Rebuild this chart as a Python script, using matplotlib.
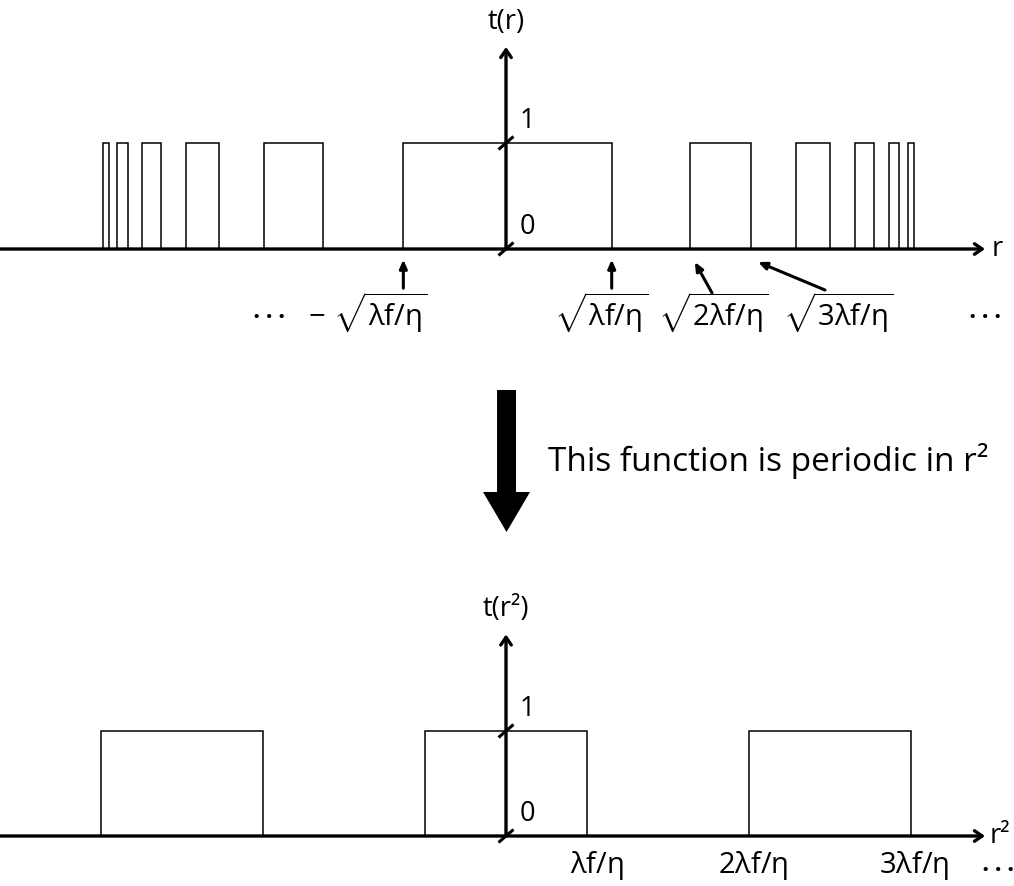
import matplotlib
matplotlib.use("Agg")
import matplotlib.pyplot as plt
from matplotlib.patches import FancyArrow

plt.rcParams['font.family'] = ['Open Sans', 'DejaVu Sans']
plt.rcParams['mathtext.fontset'] = 'custom'
plt.rcParams['mathtext.rm'] = 'Open Sans'
plt.rcParams['mathtext.it'] = 'Open Sans'
plt.rcParams['mathtext.bf'] = 'Open Sans:bold'

# ---------------- data ----------------
# top panel: t(r), x in units of sqrt(lambda f / eta)
top_left = [-3.817, -3.684, -3.453, -3.033, -2.291, -0.973, 1.744, 2.746, 3.305, 3.627, 3.808]
top_right = [-3.760, -3.580, -3.270, -2.718, -1.732, 1.002, 2.322, 3.071, 3.491, 3.728, 3.870]
levels = [0, 1]
level_labels = ['0', '1']

top_labels = [r'$-\ \sqrt{\lambda f/\eta}$', r'$\sqrt{\lambda f/\eta}$',
              r'$\sqrt{2\lambda f/\eta}$', r'$\sqrt{3\lambda f/\eta}$']
top_label_x = [-1.31, 0.90, 1.97, 3.15]
top_dots_x = [-2.24, 4.54]

# pointer arrows (tail -> tip) under top axis
ptr_tail_x = [-0.973, 1.002, 1.953, 3.024]
ptr_tail_y = [-0.37, -0.37, -0.415, -0.387]
ptr_tip_x = [-0.973, 1.002, 1.790, 2.389]
ptr_tip_y = [-0.10, -0.10, -0.123, -0.123]

# bottom panel: t(r^2), x in units of lambda f / eta (drawing scale)
bot_left = [-5, -1, 3]
bot_right = [-3, 1, 5]
bot_labels = [r'$\lambda f/\eta$', r'$2\lambda f/\eta$', r'$3\lambda f/\eta$']
bot_label_x = [1.12, 3.05, 5.04]

# ---------------- figure ----------------
W, H = 1014, 886
fig = plt.figure(figsize=(W / 100, H / 100), dpi=100)

top_x0, top_ux, top_y0, top_uy = 506, 105.5, 249, 106
bot_x0, bot_ux, bot_y0, bot_uy = 506, 81.0, 836, 105

ax_t = fig.add_axes([0, 0, 1, 1])
ax_t.set_xlim(-top_x0 / top_ux, (W - top_x0) / top_ux)
ax_t.set_ylim((top_y0 - H) / top_uy, top_y0 / top_uy)
ax_t.set_axis_off()
ax_t.patch.set_alpha(0)

ax_b = fig.add_axes([0, 0, 1, 1])
ax_b.set_xlim(-bot_x0 / bot_ux, (W - bot_x0) / bot_ux)
ax_b.set_ylim((bot_y0 - H) / bot_uy, bot_y0 / bot_uy)
ax_b.set_axis_off()
ax_b.patch.set_alpha(0)

LW_AX = 2.4
LW_P = 1.1
FS = 19.5
FS_LAB = 21
DOTS = '• • •'
FS_DOTS = 14


def draw_axes(ax, ux, uy, tipx, vtip, ylabel, xlabel, xlab_x):
    xmin = ax.get_xlim()[0]
    ax.annotate('', xy=(tipx, 0), xytext=(xmin, 0),
                arrowprops=dict(arrowstyle='->,head_length=0.55,head_width=0.38',
                                lw=LW_AX, color='black', shrinkA=0, shrinkB=0))
    ax.annotate('', xy=(0, vtip), xytext=(0, 0),
                arrowprops=dict(arrowstyle='->,head_length=0.55,head_width=0.38',
                                lw=LW_AX, color='black', shrinkA=0, shrinkB=0))
    dx, dy = 7.5 / ux, 6.5 / uy
    for lv, lab in zip(levels, level_labels):
        ax.plot([-dx, dx], [lv - dy, lv + dy], color='black', lw=2.2,
                solid_capstyle='butt')
        ax.text(14 / ux, lv + 0.21, lab, fontsize=FS, ha='left', va='center')
    ax.text(0, vtip + 0.24, ylabel, fontsize=FS, ha='center', va='center')
    ax.text(xlab_x, 0, xlabel, fontsize=FS, ha='left', va='center')


def draw_pulses(ax, lefts, rights):
    for l, r in zip(lefts, rights):
        ax.plot([l, l, r, r], [0, 1, 1, 0], color='black', lw=LW_P,
                solid_joinstyle='miter')


# ---- top panel ----
draw_pulses(ax_t, top_left, top_right)
draw_axes(ax_t, top_ux, top_uy, (985 - top_x0) / top_ux, 1.906, 't(r)', 'r',
          (992 - top_x0) / top_ux)
for x, lab in zip(top_label_x, top_labels):
    ax_t.text(x, -0.6, lab, fontsize=FS_LAB, ha='center', va='center')
for x in top_dots_x:
    ax_t.text(x, -0.65, DOTS, fontsize=FS_DOTS, ha='center', va='center')
for tx, ty, hx, hy in zip(ptr_tail_x, ptr_tail_y, ptr_tip_x, ptr_tip_y):
    ax_t.annotate('', xy=(hx, hy), xytext=(tx, ty),
                  arrowprops=dict(arrowstyle='-|>,head_length=0.5,head_width=0.22',
                                  lw=2.2, color='black', shrinkA=0, shrinkB=0))

# ---- middle: big arrow and caption ----
ax_t.add_patch(FancyArrow(0.005, (top_y0 - 390) / top_uy, 0, -(532 - 390) / top_uy,
                          width=19 / top_ux, head_width=47 / top_ux,
                          head_length=40 / top_uy, length_includes_head=True,
                          color='black', lw=0))
ax_t.text((548 - top_x0) / top_ux, (top_y0 - 461) / top_uy,
          'This function is periodic in r²', fontsize=24, ha='left', va='center')

# ---- bottom panel ----
draw_pulses(ax_b, bot_left, bot_right)
draw_axes(ax_b, bot_ux, bot_uy, (985 - bot_x0) / bot_ux, 1.92, 't(r²)', 'r²',
          (990 - bot_x0) / bot_ux)
for x, lab in zip(bot_label_x, bot_labels):
    ax_b.text(x, -0.28, lab, fontsize=FS_LAB, ha='center', va='center')
ax_b.text((998 - bot_x0) / bot_ux, -0.33, DOTS, fontsize=FS_DOTS, ha='center', va='center')

fig.savefig('out.png', dpi=100, facecolor='white')
